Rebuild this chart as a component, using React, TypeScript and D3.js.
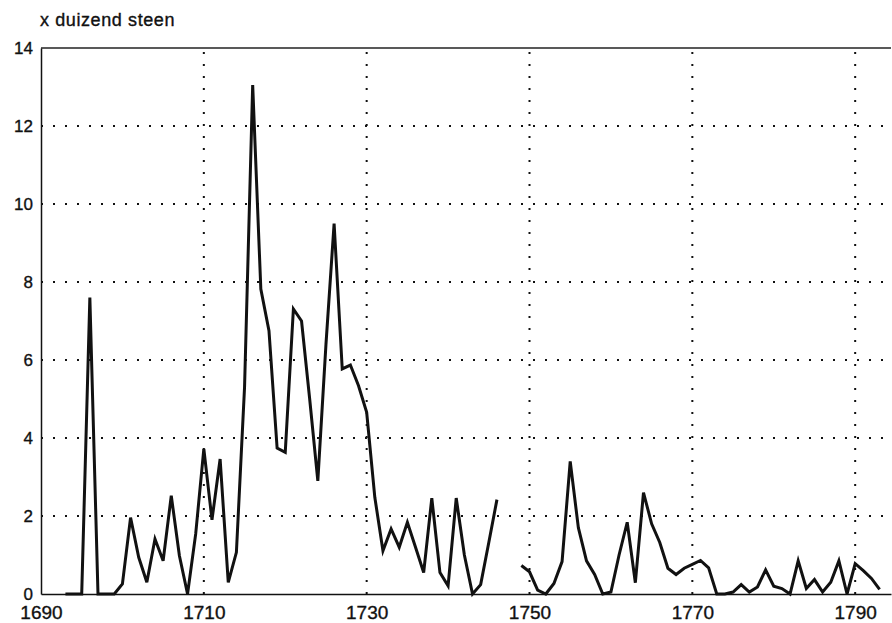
import { axisBottom, axisLeft, line as d3Line, scaleLinear, select } from "d3";
import { useEffect, useRef } from "react";

// yearly figures, x 1000 stones (gap in 1747-1748)
const years: number[] = [];
for (let y = 1693; y <= 1793; y++) years.push(y);

const values: (number | null)[] = [
  0, 0, 0, 7.6, 0, 0, 0, 0.26, 1.96, 0.94,
  0.3, 1.41, 0.85, 2.52, 0.98, 0, 1.54, 3.72, 1.9, 3.46,
  0.3, 1.07, 5.3, 13.05, 7.82, 6.75, 3.74, 3.63, 7.31, 7.0,
  5.0, 2.9, 6.4, 9.5, 5.77, 5.87, 5.34, 4.66, 2.48, 1.11,
  1.67, 1.2, 1.84, 1.2, 0.55, 2.46, 0.55, 0.21, 2.46, 1.0,
  0, 0.24, 1.32, 2.42, null, null, 0.73, 0.57, 0.1, 0,
  0.27, 0.83, 3.4, 1.7, 0.85, 0.5, 0, 0.05, 1.0, 1.84,
  0.29, 2.6, 1.8, 1.32, 0.66, 0.5, 0.66, 0.76, 0.86, 0.67,
  0, 0, 0.05, 0.24, 0.05, 0.18, 0.62, 0.2, 0.14, 0,
  0.85, 0.14, 0.37, 0.05, 0.3, 0.85, 0, 0.78, 0.6, 0.4,
  0.12,
];

const xTicks = [1690, 1710, 1730, 1750, 1770, 1790];
const yTicks = [0, 2, 4, 6, 8, 10, 12, 14];
const title = "x duizend steen";

const WIDTH = 892;
const HEIGHT = 623;
// plot box in pixels
const BOX = { left: 41, right: 891, top: 48, bottom: 594 };
const FONT = "'Liberation Sans', Arial, Helvetica, sans-serif";

const App = () => {
  const svgElem = useRef<SVGSVGElement>(null);

  useEffect(() => {
    if (!svgElem.current) return;
    const svg = select(svgElem.current);
    svg.selectAll("*").remove();

    const xScale = scaleLinear().domain([1690, 1794.4]).range([BOX.left, BOX.right]);
    const yScale = scaleLinear().domain([0, 14]).range([BOX.bottom, BOX.top]);

    // title
    svg
      .append("text")
      .attr("x", 40)
      .attr("y", 26)
      .style("font-family", FONT)
      .style("font-size", "18px")
      .style("letter-spacing", "0.6px")
      .attr("fill", "#111")
      .attr("stroke", "#111")
      .attr("stroke-width", 0.35)
      .text(title);

    // dotted grid
    const grid = svg.append("g");
    grid
      .selectAll("line.h")
      .data(yTicks.filter((t) => t > 0 && t < 14))
      .join("line")
      .attr("class", "h")
      .attr("x1", BOX.left)
      .attr("x2", BOX.right)
      .attr("y1", (d) => yScale(d))
      .attr("y2", (d) => yScale(d))
      .attr("stroke", "#111")
      .attr("stroke-width", 2)
      .attr("stroke-dasharray", "2 10");
    grid
      .selectAll("line.v")
      .data(xTicks.filter((t) => t > 1690))
      .join("line")
      .attr("class", "v")
      .attr("x1", (d) => xScale(d))
      .attr("x2", (d) => xScale(d))
      .attr("y1", BOX.top + 4)
      .attr("y2", BOX.bottom)
      .attr("stroke", "#111")
      .attr("stroke-width", 2)
      .attr("stroke-dasharray", "2 10");

    // top border
    svg
      .append("line")
      .attr("x1", BOX.left)
      .attr("x2", BOX.right)
      .attr("y1", BOX.top)
      .attr("y2", BOX.top)
      .attr("stroke", "#222")
      .attr("stroke-width", 1.5);

    // axes
    const xAxis = axisBottom(xScale).tickValues(xTicks).tickSize(0).tickPadding(12).tickFormat((d) => String(d));
    const yAxis = axisLeft(yScale).tickValues(yTicks).tickSize(0).tickPadding(8).tickFormat((d) => String(d));

    const gx = svg
      .append("g")
      .attr("transform", `translate(0, ${BOX.bottom})`)
      // @ts-expect-error d3 typing
      .call(xAxis);
    gx.select(".domain").attr("stroke", "#111").attr("stroke-width", 1.5);
    gx.selectAll("text")
      .style("font-family", FONT)
      .style("font-size", "19px")
      .attr("fill", "#111")
      .attr("stroke", "#111")
      .attr("stroke-width", 0.35);

    const gy = svg
      .append("g")
      .attr("transform", `translate(${BOX.left}, 0)`)
      // @ts-expect-error d3 typing
      .call(yAxis);
    gy.select(".domain").attr("stroke", "#111").attr("stroke-width", 1.5);
    gy.selectAll("text")
      .style("font-family", FONT)
      .style("font-size", "17px")
      .attr("fill", "#111")
      .attr("stroke", "#111")
      .attr("stroke-width", 0.35);

    // data line
    const points = years.map((y, i) => ({ x: y, y: values[i] }));
    const line = d3Line<{ x: number; y: number | null }>()
      .defined((p) => p.y !== null)
      .x((p) => xScale(p.x))
      .y((p) => yScale(p.y as number));

    svg
      .append("path")
      .attr("d", line(points))
      .attr("fill", "none")
      .attr("stroke", "#111")
      .attr("stroke-width", 3)
      .attr("stroke-linejoin", "miter");
  }, []);

  return (
    <svg
      ref={svgElem}
      width={WIDTH}
      height={HEIGHT}
      style={{ position: "absolute", left: 0, top: 0, background: "#fff" }}
    />
  );
};

export default App;
